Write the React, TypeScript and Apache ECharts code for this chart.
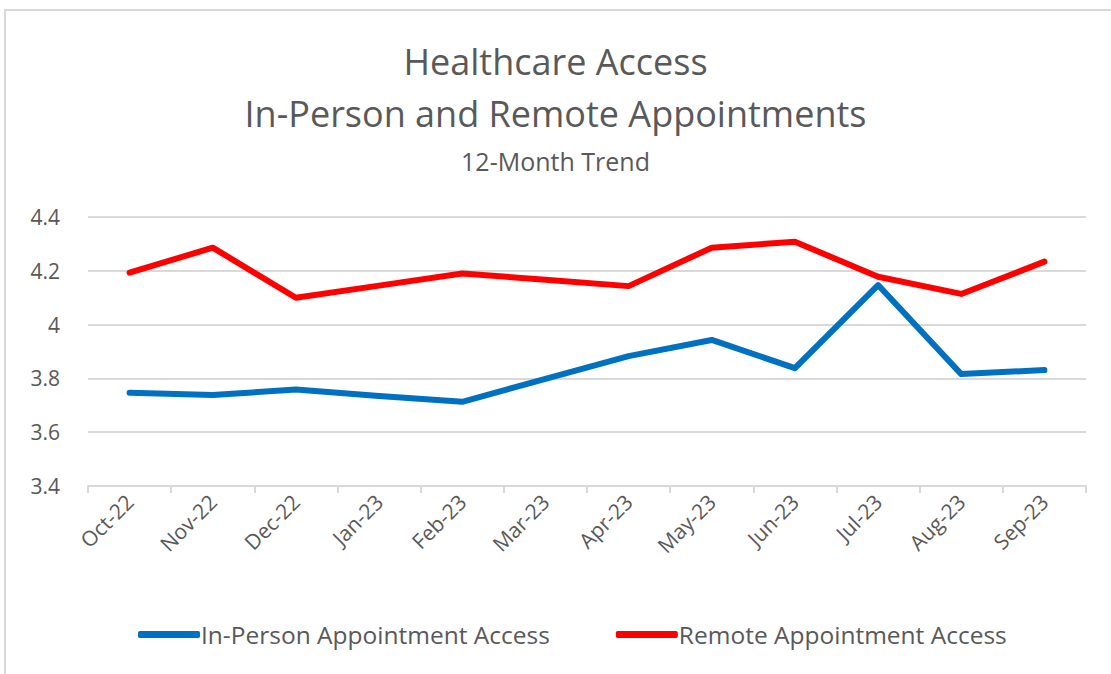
import React, { useEffect, useRef } from "react";
import * as echarts from "echarts";

const months = ["Oct-22", "Nov-22", "Dec-22", "Jan-23", "Feb-23", "Mar-23", "Apr-23", "May-23", "Jun-23", "Jul-23", "Aug-23", "Sep-23"];
const inPerson = [3.747, 3.738, 3.759, 3.735, 3.713, 3.798, 3.883, 3.943, 3.838, 4.147, 3.816, 3.831];
const remote = [4.193, 4.286, 4.1, 4.145, 4.19, 4.167, 4.143, 4.286, 4.308, 4.178, 4.114, 4.234];
const yTicks = { min: 3.4, max: 4.4, interval: 0.2 };

const FONT = "'Open Sans', 'Liberation Sans', sans-serif";
const GRAY = "#595959";

export default function App() {
  const ref = useRef<HTMLDivElement>(null);
  useEffect(() => {
    const chart = echarts.init(ref.current!, null, { renderer: "svg" });
    chart.setOption({
      animation: false,
      backgroundColor: "#ffffff",
      graphic: [
        {
          type: "rect",
          shape: { x: 5, y: 10, width: 1120, height: 700 },
          style: { fill: "none", stroke: "#d9d9d9", lineWidth: 2 },
          silent: true,
        },
      ],
      title: [
        {
          text: "Healthcare Access\nIn-Person and Remote Appointments",
          left: "center",
          top: 30,
          textStyle: { fontFamily: FONT, fontSize: 36, fontWeight: "normal", color: GRAY, lineHeight: 52 },
        },
        {
          text: "12-Month Trend",
          left: "center",
          top: 143,
          textStyle: { fontFamily: FONT, fontSize: 25, fontWeight: "normal", color: GRAY },
        },
      ],
      legend: {
        bottom: 22,
        left: 133,
        itemWidth: 62,
        itemHeight: 7,
        itemGap: 66,
        icon: "roundRect",
        textStyle: { fontFamily: FONT, fontSize: 24.5, color: GRAY, padding: [0, 0, 0, -4] },
        data: ["In-Person Appointment Access", "Remote Appointment Access"],
      },
      grid: { left: 88, right: 25, top: 217, bottom: 188 },
      xAxis: {
        type: "category",
        data: months,
        boundaryGap: true,
        axisLine: { lineStyle: { color: "#d9d9d9", width: 2 } },
        axisTick: { show: true, alignWithLabel: false, length: 7, lineStyle: { color: "#d9d9d9", width: 2 } },
        axisLabel: { rotate: 45, fontFamily: FONT, fontSize: 21, color: GRAY, margin: 12, interval: 0 },
      },
      yAxis: {
        type: "value",
        min: yTicks.min,
        max: yTicks.max,
        interval: yTicks.interval,
        axisLine: { show: false },
        axisTick: { show: false },
        splitLine: { lineStyle: { color: "#d9d9d9", width: 2 } },
        axisLabel: {
          fontFamily: FONT,
          fontSize: 21,
          color: GRAY,
          margin: 28,
          formatter: (v: number) => String(Math.round(v * 10) / 10),
        },
      },
      series: [
        {
          name: "In-Person Appointment Access",
          type: "line",
          data: inPerson,
          symbol: "none",
          lineStyle: { color: "#0070c0", width: 6, cap: "round", join: "round" },
          itemStyle: { color: "#0070c0" },
        },
        {
          name: "Remote Appointment Access",
          type: "line",
          data: remote,
          symbol: "none",
          lineStyle: { color: "#ff0000", width: 6, cap: "round", join: "round" },
          itemStyle: { color: "#ff0000" },
        },
      ],
    });
    return () => chart.dispose();
  }, []);
  return <div ref={ref} style={{ width: 1111, height: 674, position: "absolute", left: 0, top: 0 }} />;
}
